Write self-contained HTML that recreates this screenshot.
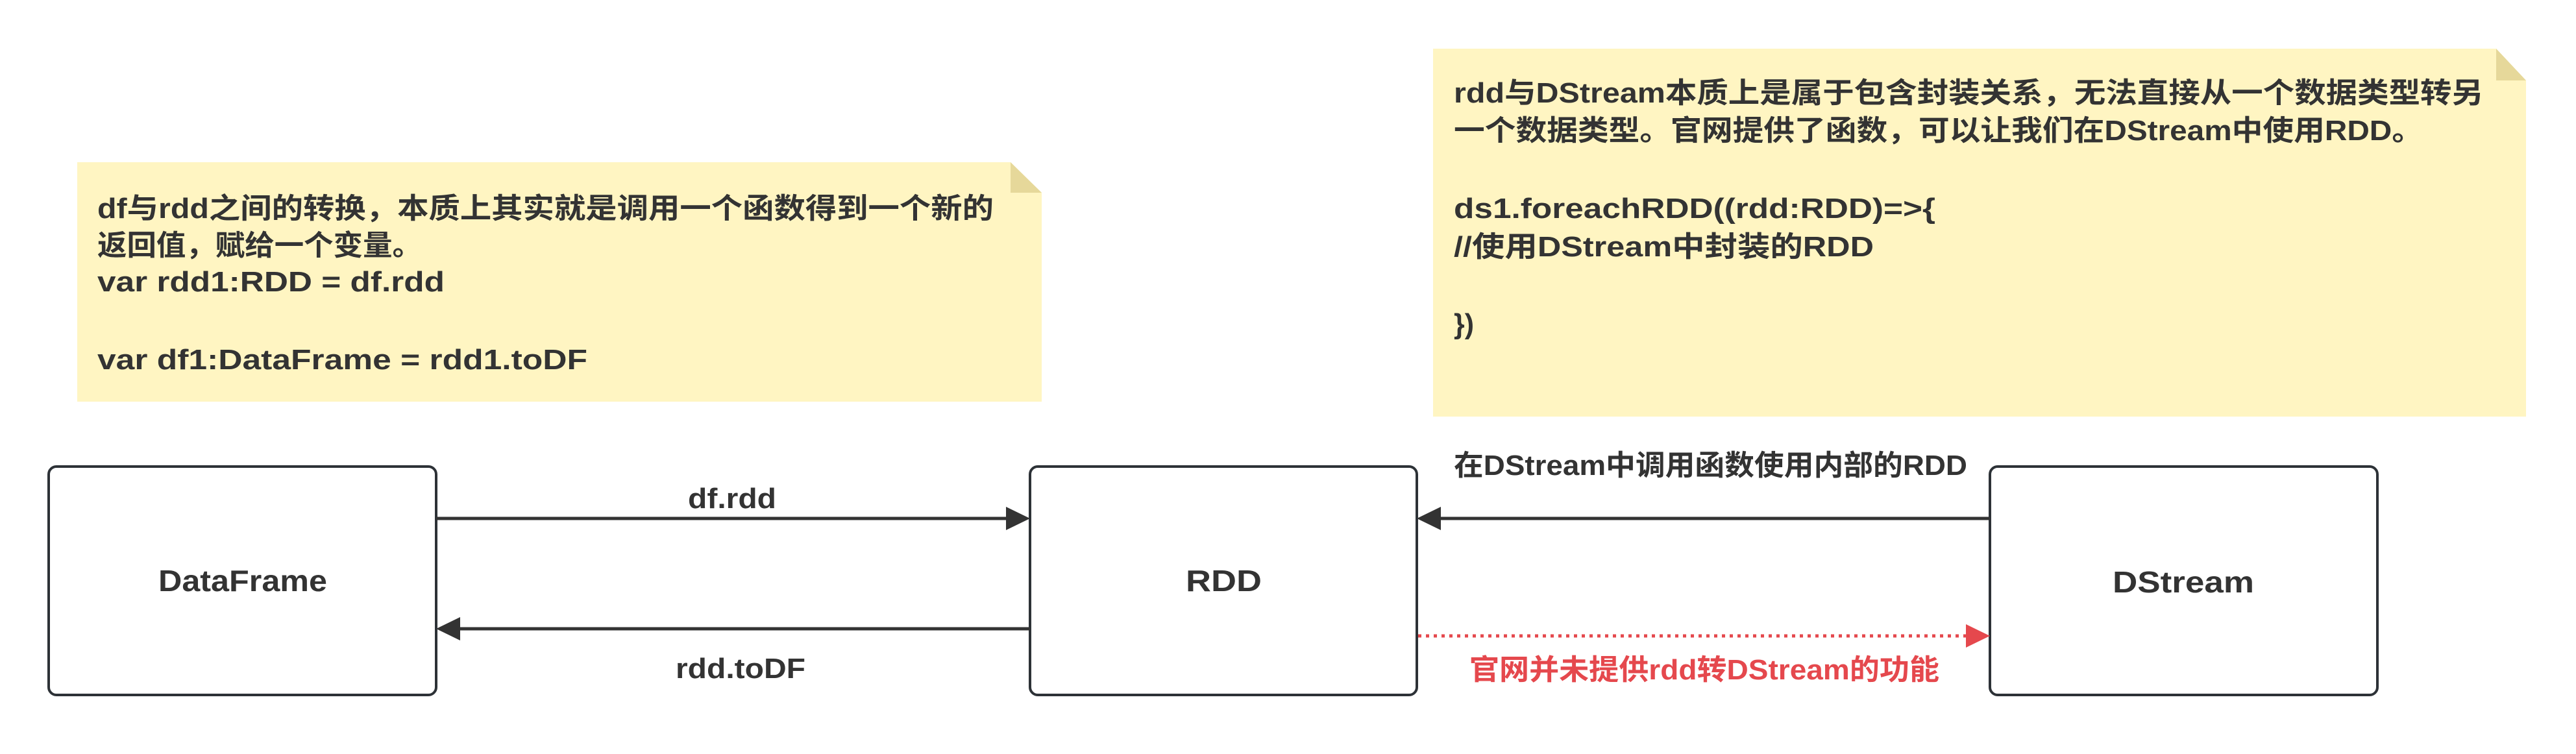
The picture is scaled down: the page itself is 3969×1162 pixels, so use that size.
<!DOCTYPE html>
<html><head><meta charset="utf-8"><style>
html,body{margin:0;padding:0;background:#fff;}
svg{display:block;}
text{font-family:"Liberation Sans","Noto Sans CJK SC",sans-serif;font-weight:bold;fill:#333;}
</style></head><body>
<svg width="3969" height="1162" viewBox="0 0 3969 1162" xmlns="http://www.w3.org/2000/svg">
<!-- note 1 -->
<path d="M119 250 H1557 L1605 297 V619 H119 Z" fill="#fff5c2"/>
<path d="M1557 250 L1605 297 H1557 Z" fill="#e6d89a"/>
<g font-size="44">
<text x="150" y="336" textLength="1381" lengthAdjust="spacingAndGlyphs">df与rdd之间的转换，本质上其实就是调用一个函数得到一个新的</text>
<text x="150" y="393" textLength="500" lengthAdjust="spacingAndGlyphs">返回值，赋给一个变量。</text>
<text x="150" y="449" textLength="535" lengthAdjust="spacingAndGlyphs">var rdd1:RDD = df.rdd</text>
<text x="150" y="569" textLength="755" lengthAdjust="spacingAndGlyphs">var df1:DataFrame = rdd1.toDF</text>
</g>
<!-- note 2 -->
<path d="M2208 75 H3846 L3892 124 V642 H2208 Z" fill="#fff5c2"/>
<path d="M3846 75 L3892 124 H3846 Z" fill="#e6d89a"/>
<g font-size="44">
<text x="2240" y="158" textLength="1586" lengthAdjust="spacingAndGlyphs">rdd与DStream本质上是属于包含封装关系，无法直接从一个数据类型转另</text>
<text x="2240" y="216" textLength="1493" lengthAdjust="spacingAndGlyphs">一个数据类型。官网提供了函数，可以让我们在DStream中使用RDD。</text>
<text x="2240" y="336" textLength="742" lengthAdjust="spacingAndGlyphs">ds1.foreachRDD((rdd:RDD)=&gt;{</text>
<text x="2240" y="395" textLength="647" lengthAdjust="spacingAndGlyphs">//使用DStream中封装的RDD</text>
<text x="2240" y="514" textLength="31" lengthAdjust="spacingAndGlyphs">})</text>
</g>
<!-- boxes -->
<g fill="#fff" stroke="#2d3237" stroke-width="4">
<rect x="75" y="719" width="597" height="352" rx="12"/>
<rect x="1587" y="719" width="596" height="352" rx="12"/>
<rect x="3066" y="719" width="597" height="352" rx="12"/>
</g>
<g font-size="46">
<text x="244" y="911" textLength="260" lengthAdjust="spacingAndGlyphs">DataFrame</text>
<text x="1827" y="911" textLength="117" lengthAdjust="spacingAndGlyphs">RDD</text>
<text x="3255" y="913" textLength="218" lengthAdjust="spacingAndGlyphs">DStream</text>
</g>
<!-- arrows -->
<g stroke="#333" stroke-width="5">
<line x1="672" y1="799" x2="1555" y2="799"/>
<line x1="1587" y1="969" x2="705" y2="969"/>
<line x1="3066" y1="799" x2="2217" y2="799"/>
</g>
<g fill="#333">
<path d="M1587 799 L1550 781 V817 Z"/>
<path d="M672 969 L709 951 V987 Z"/>
<path d="M2183 799 L2220 781 V817 Z"/>
</g>
<line x1="2185" y1="980" x2="3032" y2="980" stroke="#e5484d" stroke-width="5" stroke-dasharray="5 7"/>
<path d="M3066 980 L3029 962 V998 Z" fill="#e5484d"/>
<g font-size="44">
<text x="1060" y="783" textLength="136" lengthAdjust="spacingAndGlyphs">df.rdd</text>
<text x="1041" y="1045" textLength="200" lengthAdjust="spacingAndGlyphs">rdd.toDF</text>
<text x="2240" y="732" textLength="791" lengthAdjust="spacingAndGlyphs">在DStream中调用函数使用内部的RDD</text>
<text x="2264" y="1047" textLength="724" lengthAdjust="spacingAndGlyphs" style="fill:#e5484d">官网并未提供rdd转DStream的功能</text>
</g>
</svg>
</body></html>
